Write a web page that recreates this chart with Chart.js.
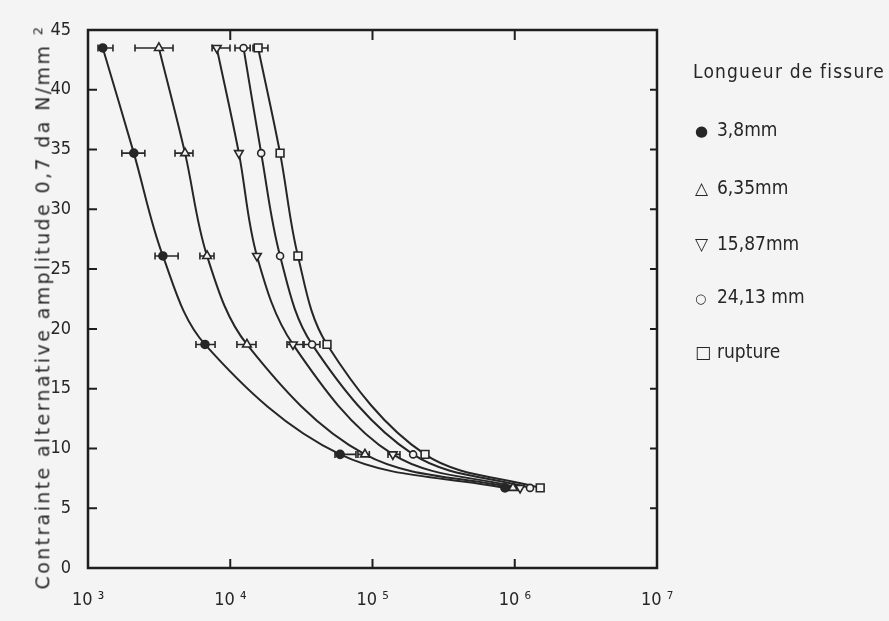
<!DOCTYPE html>
<html>
<head>
<meta charset="utf-8">
<title>Contrainte - nombre de cycles</title>
<script src="https://cdn.jsdelivr.net/npm/chart.js@4.4.0/dist/chart.umd.min.js"></script>
<style>
    html, body { margin: 0; padding: 0; background: #f4f4f4; }
    #cadre { position: relative; width: 889px; height: 621px; overflow: hidden; }
    #graphique { position: absolute; left: 0; top: 0; }
    .txt { position: absolute; white-space: nowrap; color: #262626;
           font-family: "DejaVu Sans Condensed", "DejaVu Sans", sans-serif; }
    #titreY { left: 42px; top: 307px; font-size: 19px; font-family: "DejaVu Sans", sans-serif;
              transform: translate(-50%, -50%) rotate(-90deg); }
    #titreY sup { font-size: 13px; }
    #titreLegende { left: 693px; top: 60px; font-size: 19px; }
    .item { left: 695px; font-size: 19px; }
    .item span.sym { display: inline-block; width: 22px; font-family: "DejaVu Sans", sans-serif; font-size: 17px; }
</style>
</head>
<body>
<div id="cadre">
    <canvas id="graphique" width="889" height="621"></canvas>
    <div id="titreY" class="txt">Contrainte alternative amplitude 0,7 da N/mm <sup>2</sup></div>
    <div id="titreLegende" class="txt">Longueur de fissure</div>
    <div class="txt item" style="top:118px"><span class="sym" style="font-size:15px">●</span>3,8mm</div>
    <div class="txt item" style="top:176px"><span class="sym">△</span>6,35mm</div>
    <div class="txt item" style="top:232px"><span class="sym">▽</span>15,87mm</div>
    <div class="txt item" style="top:285px"><span class="sym" style="font-size:13px">○</span>24,13 mm</div>
    <div class="txt item" style="top:340px"><span class="sym">□</span>rupture</div>
</div>
<script>
// niveaux de contrainte (da N/mm2)
const niveaux = [43.5, 34.7, 26.1, 18.7, 9.5, 6.7];

// nombre de cycles pour chaque longueur de fissure
const cycles38 = [1270, 2100, 3360, 6640, 59200, 853000];
const cycles635 = [3150, 4810, 6870, 13100, 88500, 972000];
const cycles1587 = [8040, 11500, 15400, 27600, 139000, 1090000];
const cycles2413 = [12400, 16500, 22400, 37600, 193000, 1280000];
const cyclesRupture = [15700, 22400, 29900, 47900, 234000, 1510000];

// dispersion (barres horizontales), null = pas de barre
const disp38Min = [1176, 1730, 2960, 5740, 54500, null];
const disp38Max = [1498, 2510, 4300, 7820, 76500, null];
const disp635Min = [2140, 4090, 6120, 11140, 79000, null];
const disp635Max = [3960, 5470, 7690, 15170, 95000, null];
const disp1587Min = [7450, null, null, 25060, 128500, null];
const disp1587Max = [9960, null, null, 32460, 156000, null];
const disp2413Min = [10800, null, null, 33000, null, null];
const disp2413Max = [13800, null, null, 42700, null, null];
const dispRuptureMin = [14460, null, null, null, null, null];
const dispRuptureMax = [18400, null, null, null, null, null];

// graduations
const ticksX = [1e3, 1e4, 1e5, 1e6, 1e7];
const labelsX = ['10 \u00B3', '10 \u2074', '10 \u2075', '10 \u2076', '10 \u2077'];

const encre = '#262626';
const police = '"DejaVu Sans Condensed", "DejaVu Sans", sans-serif';

function points(cycles) {
    return cycles.map((c, i) => ({ x: c, y: niveaux[i] }));
}

function serie(nom, cycles, dMin, dMax, style) {
    return Object.assign({
        label: nom,
        data: points(cycles),
        dispMin: dMin,
        dispMax: dMax,
        borderColor: encre,
        borderWidth: 2,
        pointBorderColor: encre,
        pointBorderWidth: 1.6,
        pointBackgroundColor: '#f4f4f4',
        tension: 0.35,
        fill: false
    }, style);
}

// barres de dispersion, cadre et graduations intérieures
const cadrePlugin = {
    id: 'cadre',
    beforeDatasetsDraw(chart) {
        const ctx = chart.ctx;
        const sx = chart.scales.x, sy = chart.scales.y;
        ctx.save();
        ctx.strokeStyle = encre;
        ctx.lineWidth = 1.6;
        chart.data.datasets.forEach(ds => {
            ds.data.forEach((p, i) => {
                if (ds.dispMin[i] == null) return;
                const x1 = sx.getPixelForValue(ds.dispMin[i]);
                const x2 = sx.getPixelForValue(ds.dispMax[i]);
                const y = sy.getPixelForValue(p.y);
                ctx.beginPath();
                ctx.moveTo(x1, y); ctx.lineTo(x2, y);
                ctx.moveTo(x1, y - 3.5); ctx.lineTo(x1, y + 3.5);
                ctx.moveTo(x2, y - 3.5); ctx.lineTo(x2, y + 3.5);
                ctx.stroke();
            });
        });
        ctx.restore();
    },
    afterDraw(chart) {
        const ctx = chart.ctx;
        const a = chart.chartArea;
        const sx = chart.scales.x, sy = chart.scales.y;
        ctx.save();
        ctx.strokeStyle = '#1e1e1e';
        ctx.lineWidth = 2.5;
        ctx.strokeRect(a.left, a.top, a.right - a.left, a.bottom - a.top);
        ctx.lineWidth = 2;
        ctx.beginPath();
        sx.ticks.forEach(t => {
            if (t.value <= sx.min || t.value >= sx.max) return;
            const x = sx.getPixelForValue(t.value);
            ctx.moveTo(x, a.bottom); ctx.lineTo(x, a.bottom - 9);
            ctx.moveTo(x, a.top); ctx.lineTo(x, a.top + 10);
        });
        sy.ticks.forEach(t => {
            if (t.value <= sy.min || t.value >= sy.max) return;
            const y = sy.getPixelForValue(t.value);
            ctx.moveTo(a.left, y); ctx.lineTo(a.left + 9, y);
            ctx.moveTo(a.right, y); ctx.lineTo(a.right - 7, y);
        });
        ctx.stroke();
        ctx.restore();
    }
};

const ctx = document.getElementById('graphique').getContext('2d');
new Chart(ctx, {
    type: 'line',
    data: {
        datasets: [
            serie('3,8mm', cycles38, disp38Min, disp38Max, { pointStyle: 'circle', pointRadius: 4, pointBackgroundColor: encre }),
            serie('6,35mm', cycles635, disp635Min, disp635Max, { pointStyle: 'triangle', pointRadius: 5 }),
            serie('15,87mm', cycles1587, disp1587Min, disp1587Max, { pointStyle: 'triangle', pointRotation: 180, pointRadius: 5 }),
            serie('24,13 mm', cycles2413, disp2413Min, disp2413Max, { pointStyle: 'circle', pointRadius: 3.5 }),
            serie('rupture', cyclesRupture, dispRuptureMin, dispRuptureMax, { pointStyle: 'rect', pointRadius: 5.5 })
        ]
    },
    options: {
        responsive: false,
        animation: false,
        layout: { padding: { top: 30, right: 232, left: 0, bottom: 0 } },
        plugins: {
            legend: { display: false },
            tooltip: { enabled: false }
        },
        scales: {
            x: {
                type: 'logarithmic',
                min: 1e3,
                max: 1e7,
                afterBuildTicks(s) { s.ticks = ticksX.map(v => ({ value: v })); },
                afterFit(s) { s.height = 53; },
                grid: { display: false, drawTicks: false, tickLength: 0 },
                border: { display: false },
                ticks: {
                    autoSkip: false,
                    maxRotation: 0,
                    padding: 22,
                    color: encre,
                    font: { family: police, size: 18 },
                    callback: v => labelsX[ticksX.indexOf(v)]
                }
            },
            y: {
                min: 0,
                max: 45,
                afterFit(s) { s.width = 88; },
                grid: { display: false, drawTicks: false, tickLength: 0 },
                border: { display: false },
                ticks: {
                    stepSize: 5,
                    padding: 17,
                    color: encre,
                    font: { family: police, size: 18 }
                }
            }
        }
    },
    plugins: [cadrePlugin]
});

// ajuste l'espacement des lettres pour retrouver la longueur du texte d'origine
function ajuster(id, largeur) {
    const el = document.getElementById(id);
    const n = el.textContent.length;
    const w = el.getBoundingClientRect();
    const nat = Math.max(w.width, w.height);
    el.style.letterSpacing = ((largeur - nat) / n) + 'px';
}
ajuster('titreY', 565);
ajuster('titreLegende', 192);
</script>
</body>
</html>
